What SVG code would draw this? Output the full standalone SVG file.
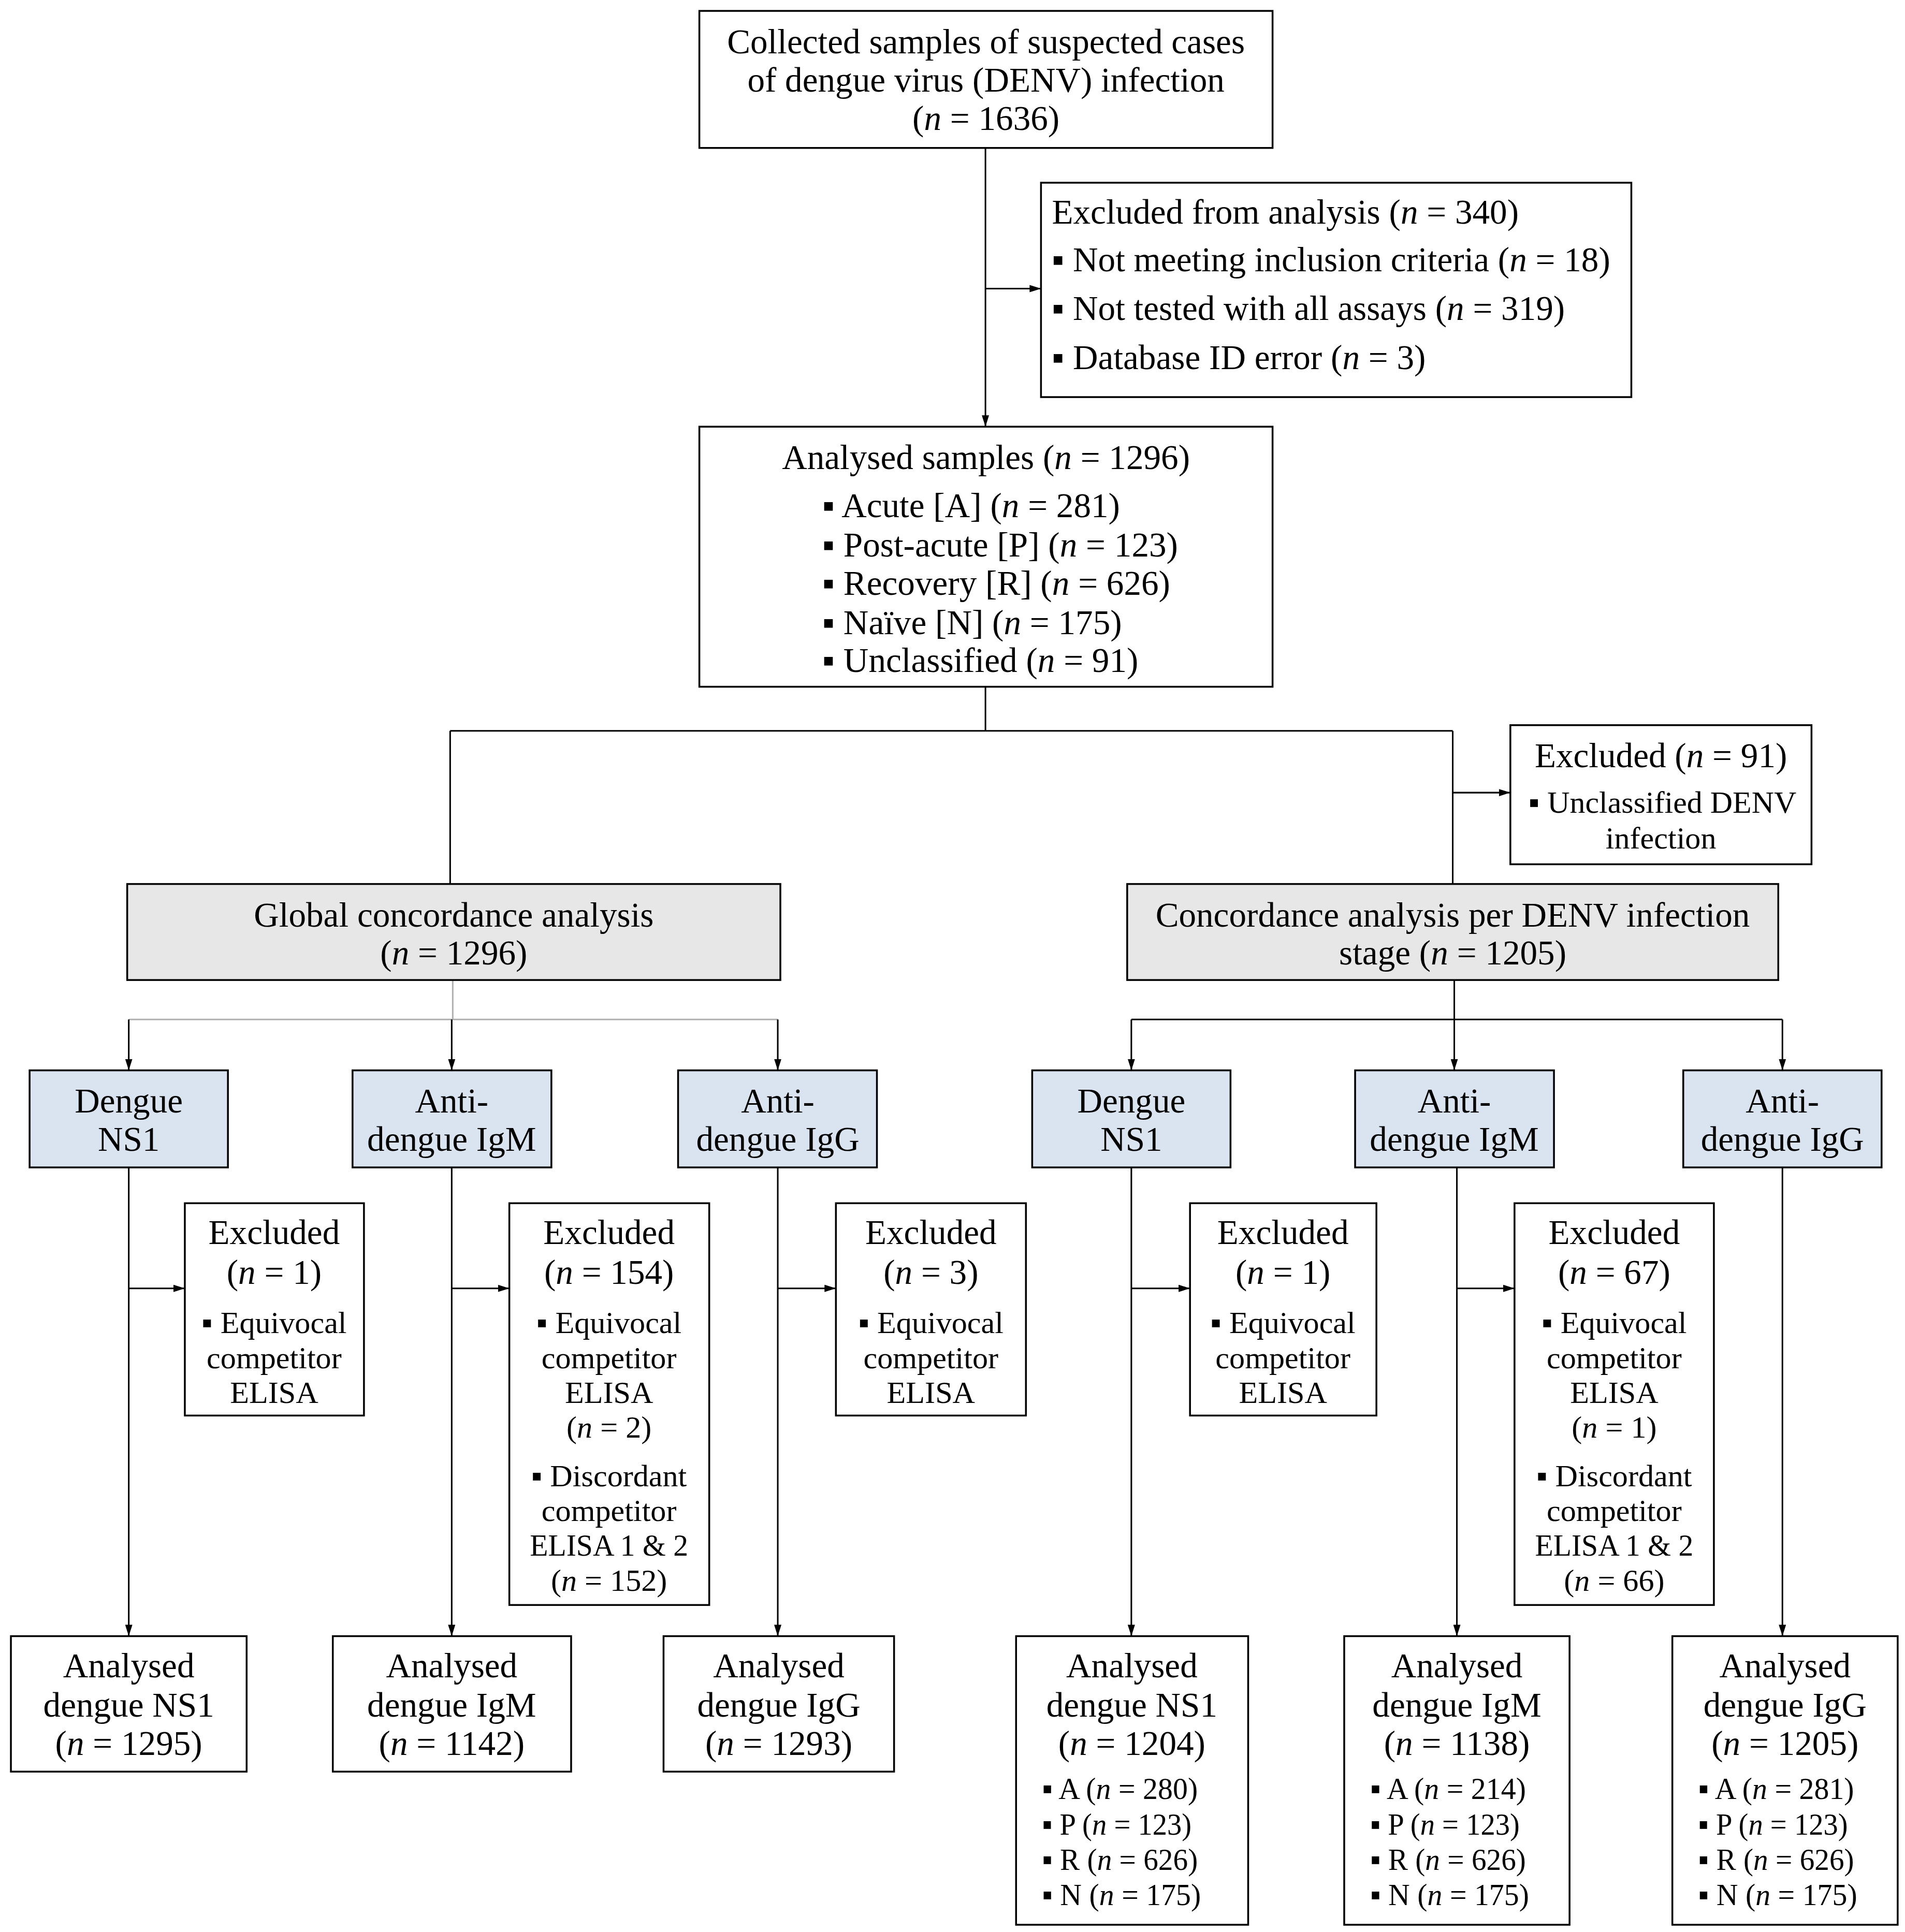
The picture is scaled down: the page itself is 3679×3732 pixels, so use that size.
<svg xmlns="http://www.w3.org/2000/svg" width="3679" height="3732" viewBox="0 0 3679 3732">
<defs>
<style>
.box{fill:#ffffff;stroke:#000000;stroke-width:3.5}
.grey{fill:#e7e7e7;stroke:#000000;stroke-width:3.5}
.blue{fill:#dae3f0;stroke:#000000;stroke-width:3.5}
text{font-family:"Liberation Serif","DejaVu Serif",serif;font-size:67px;fill:#000000}
text.s{font-size:60px}
.c{text-anchor:middle}
.i{font-style:italic}
.ln{fill:none;stroke:#000000;stroke-width:3}
.lg{fill:none;stroke:#b0b0b0;stroke-width:3}
.ar{fill:none;stroke:#000000;stroke-width:3;marker-end:url(#arrow)}
</style>
<marker id="arrow" markerUnits="userSpaceOnUse" markerWidth="22" markerHeight="14" viewBox="0 0 22 14" refX="22" refY="7" orient="auto">
<path d="M0,0 L22,7 L0,14 Z" fill="#000000"/>
</marker>
</defs>
<rect width="3679" height="3732" fill="#ffffff"/>
<g transform="scale(1.0027)">
<g id="connectors">
<path class="ar" d="M1898,285 V822"/>
<path class="ar" d="M1898,556 H2005"/>
<path class="ln" d="M1898,1323 V1408 M867,1408 H2798 M867,1408 V1703 M2798,1408 V1703"/>
<path class="ar" d="M2798,1527 H2909"/>
<path class="lg" d="M872,1888 V1964 M248,1964 H1498"/>
<path class="ar" d="M248,1964 V2062"/>
<path class="ar" d="M870,1964 V2062"/>
<path class="ar" d="M1498,1964 V2062"/>
<path class="ln" d="M2801,1888 V1964 M2179,1964 H3433"/>
<path class="ar" d="M2179,1964 V2062"/>
<path class="ar" d="M2801,1964 V2062"/>
<path class="ar" d="M3433,1964 V2062"/>
<path class="ar" d="M248,2249 V3152"/>
<path class="ar" d="M870,2249 V3152"/>
<path class="ar" d="M1498,2249 V3152"/>
<path class="ar" d="M2179,2249 V3152"/>
<path class="ar" d="M2806,2249 V3152"/>
<path class="ar" d="M3433,2249 V3152"/>
<path class="ar" d="M248,2482 H356"/>
<path class="ar" d="M870,2482 H981"/>
<path class="ar" d="M1498,2482 H1610"/>
<path class="ar" d="M2179,2482 H2292"/>
<path class="ar" d="M2806,2482 H2917"/>
</g>
<g id="collected">
<rect class="box" x="1347" y="21" width="1104" height="264"/>
<text class="c" x="1899" y="103">Collected samples of suspected cases</text>
<text class="c" x="1899" y="177">of dengue virus (DENV) infection</text>
<text class="c" x="1899" y="250">(<tspan class="i">n</tspan> = 1636)</text>
</g>
<g id="excluded-340">
<rect class="box" x="2005" y="352" width="1137" height="413"/>
<text x="2026" y="431">Excluded from analysis (<tspan class="i">n</tspan> = 340)</text>
<text x="2026" y="523">▪ Not meeting inclusion criteria (<tspan class="i">n</tspan> = 18)</text>
<text x="2026" y="616">▪ Not tested with all assays (<tspan class="i">n</tspan> = 319)</text>
<text x="2026" y="711">▪ Database ID error (<tspan class="i">n</tspan> = 3)</text>
</g>
<g id="analysed-samples">
<rect class="box" x="1347" y="822" width="1104" height="501"/>
<text class="c" x="1899" y="904">Analysed samples (<tspan class="i">n</tspan> = 1296)</text>
<text x="1584" y="996">▪ Acute [A] (<tspan class="i">n</tspan> = 281)</text>
<text x="1584" y="1072">▪ Post-acute [P] (<tspan class="i">n</tspan> = 123)</text>
<text x="1584" y="1146">▪ Recovery [R] (<tspan class="i">n</tspan> = 626)</text>
<text x="1584" y="1222">▪ Naïve [N] (<tspan class="i">n</tspan> = 175)</text>
<text x="1584" y="1295">▪ Unclassified (<tspan class="i">n</tspan> = 91)</text>
</g>
<g id="excluded-91">
<rect class="box" x="2909" y="1397" width="580" height="268"/>
<text class="c" x="3199" y="1478">Excluded (<tspan class="i">n</tspan> = 91)</text>
<text class="c s" x="3202" y="1566" textLength="516" lengthAdjust="spacingAndGlyphs">▪ Unclassified DENV</text>
<text class="c s" x="3199" y="1635">infection</text>
</g>
<g id="global">
<rect class="grey" x="245" y="1703" width="1258" height="185"/>
<text class="c" x="874" y="1785">Global concordance analysis</text>
<text class="c" x="874" y="1858">(<tspan class="i">n</tspan> = 1296)</text>
</g>
<g id="per-stage">
<rect class="grey" x="2171" y="1703" width="1254" height="185"/>
<text class="c" x="2798" y="1785">Concordance analysis per DENV infection</text>
<text class="c" x="2798" y="1858">stage (<tspan class="i">n</tspan> = 1205)</text>
</g>
<g id="g-ns1">
<rect class="blue" x="57" y="2062" width="382" height="187"/>
<text class="c" x="248" y="2143">Dengue</text>
<text class="c" x="248" y="2217">NS1</text>
</g>
<g id="g-igm">
<rect class="blue" x="679" y="2062" width="383" height="187"/>
<text class="c" x="870" y="2143">Anti-</text>
<text class="c" x="870" y="2217">dengue IgM</text>
</g>
<g id="g-igg">
<rect class="blue" x="1306" y="2062" width="383" height="187"/>
<text class="c" x="1498" y="2143">Anti-</text>
<text class="c" x="1498" y="2217">dengue IgG</text>
</g>
<g id="s-ns1">
<rect class="blue" x="1988" y="2062" width="382" height="187"/>
<text class="c" x="2179" y="2143">Dengue</text>
<text class="c" x="2179" y="2217">NS1</text>
</g>
<g id="s-igm">
<rect class="blue" x="2610" y="2062" width="383" height="187"/>
<text class="c" x="2801" y="2143">Anti-</text>
<text class="c" x="2801" y="2217">dengue IgM</text>
</g>
<g id="s-igg">
<rect class="blue" x="3242" y="2062" width="382" height="187"/>
<text class="c" x="3433" y="2143">Anti-</text>
<text class="c" x="3433" y="2217">dengue IgG</text>
</g>
<g id="g-ex-ns1">
<rect class="box" x="356" y="2318" width="345" height="409"/>
<text class="c" x="528" y="2397">Excluded</text>
<text class="c" x="528" y="2473">(<tspan class="i">n</tspan> = 1)</text>
<text class="c s" x="528" y="2568">▪ Equivocal</text>
<text class="c s" x="528" y="2636">competitor</text>
<text class="c s" x="528" y="2703">ELISA</text>
</g>
<g id="g-ex-igm">
<rect class="box" x="981" y="2318" width="385" height="774"/>
<text class="c" x="1173" y="2397">Excluded</text>
<text class="c" x="1173" y="2473">(<tspan class="i">n</tspan> = 154)</text>
<text class="c s" x="1173" y="2568">▪ Equivocal</text>
<text class="c s" x="1173" y="2636">competitor</text>
<text class="c s" x="1173" y="2703">ELISA</text>
<text class="c s" x="1173" y="2770">(<tspan class="i">n</tspan> = 2)</text>
<text class="c s" x="1173" y="2863">▪ Discordant</text>
<text class="c s" x="1173" y="2930">competitor</text>
<text class="c s" x="1173" y="2997" textLength="305" lengthAdjust="spacingAndGlyphs">ELISA 1 &amp; 2</text>
<text class="c s" x="1173" y="3065">(<tspan class="i">n</tspan> = 152)</text>
</g>
<g id="g-ex-igg">
<rect class="box" x="1610" y="2318" width="366" height="409"/>
<text class="c" x="1793" y="2397">Excluded</text>
<text class="c" x="1793" y="2473">(<tspan class="i">n</tspan> = 3)</text>
<text class="c s" x="1793" y="2568">▪ Equivocal</text>
<text class="c s" x="1793" y="2636">competitor</text>
<text class="c s" x="1793" y="2703">ELISA</text>
</g>
<g id="s-ex-ns1">
<rect class="box" x="2292" y="2318" width="359" height="409"/>
<text class="c" x="2471" y="2397">Excluded</text>
<text class="c" x="2471" y="2473">(<tspan class="i">n</tspan> = 1)</text>
<text class="c s" x="2471" y="2568">▪ Equivocal</text>
<text class="c s" x="2471" y="2636">competitor</text>
<text class="c s" x="2471" y="2703">ELISA</text>
</g>
<g id="s-ex-igm">
<rect class="box" x="2917" y="2318" width="384" height="774"/>
<text class="c" x="3109" y="2397">Excluded</text>
<text class="c" x="3109" y="2473">(<tspan class="i">n</tspan> = 67)</text>
<text class="c s" x="3109" y="2568">▪ Equivocal</text>
<text class="c s" x="3109" y="2636">competitor</text>
<text class="c s" x="3109" y="2703">ELISA</text>
<text class="c s" x="3109" y="2770">(<tspan class="i">n</tspan> = 1)</text>
<text class="c s" x="3109" y="2863">▪ Discordant</text>
<text class="c s" x="3109" y="2930">competitor</text>
<text class="c s" x="3109" y="2997" textLength="305" lengthAdjust="spacingAndGlyphs">ELISA 1 &amp; 2</text>
<text class="c s" x="3109" y="3065">(<tspan class="i">n</tspan> = 66)</text>
</g>
<g id="g-an-ns1">
<rect class="box" x="21" y="3152" width="454" height="261"/>
<text class="c" x="248" y="3231">Analysed</text>
<text class="c" x="248" y="3307">dengue NS1</text>
<text class="c" x="248" y="3381">(<tspan class="i">n</tspan> = 1295)</text>
</g>
<g id="g-an-igm">
<rect class="box" x="641" y="3152" width="459" height="261"/>
<text class="c" x="870" y="3231">Analysed</text>
<text class="c" x="870" y="3307">dengue IgM</text>
<text class="c" x="870" y="3381">(<tspan class="i">n</tspan> = 1142)</text>
</g>
<g id="g-an-igg">
<rect class="box" x="1278" y="3152" width="444" height="261"/>
<text class="c" x="1500" y="3231">Analysed</text>
<text class="c" x="1500" y="3307">dengue IgG</text>
<text class="c" x="1500" y="3381">(<tspan class="i">n</tspan> = 1293)</text>
</g>
<g id="s-an-ns1">
<rect class="box" x="1957" y="3152" width="447" height="556"/>
<text class="c" x="2180" y="3231">Analysed</text>
<text class="c" x="2180" y="3307">dengue NS1</text>
<text class="c" x="2180" y="3381">(<tspan class="i">n</tspan> = 1204)</text>
<text class="s" x="2007" y="3466" textLength="300" lengthAdjust="spacingAndGlyphs">▪ A (<tspan class="i">n</tspan> = 280)</text>
<text class="s" x="2007" y="3534" textLength="288" lengthAdjust="spacingAndGlyphs">▪ P (<tspan class="i">n</tspan> = 123)</text>
<text class="s" x="2007" y="3602" textLength="300" lengthAdjust="spacingAndGlyphs">▪ R (<tspan class="i">n</tspan> = 626)</text>
<text class="s" x="2007" y="3670" textLength="306" lengthAdjust="spacingAndGlyphs">▪ N (<tspan class="i">n</tspan> = 175)</text>
</g>
<g id="s-an-igm">
<rect class="box" x="2589" y="3152" width="434" height="556"/>
<text class="c" x="2806" y="3231">Analysed</text>
<text class="c" x="2806" y="3307">dengue IgM</text>
<text class="c" x="2806" y="3381">(<tspan class="i">n</tspan> = 1138)</text>
<text class="s" x="2639" y="3466" textLength="300" lengthAdjust="spacingAndGlyphs">▪ A (<tspan class="i">n</tspan> = 214)</text>
<text class="s" x="2639" y="3534" textLength="288" lengthAdjust="spacingAndGlyphs">▪ P (<tspan class="i">n</tspan> = 123)</text>
<text class="s" x="2639" y="3602" textLength="300" lengthAdjust="spacingAndGlyphs">▪ R (<tspan class="i">n</tspan> = 626)</text>
<text class="s" x="2639" y="3670" textLength="306" lengthAdjust="spacingAndGlyphs">▪ N (<tspan class="i">n</tspan> = 175)</text>
</g>
<g id="s-an-igg">
<rect class="box" x="3221" y="3152" width="434" height="556"/>
<text class="c" x="3438" y="3231">Analysed</text>
<text class="c" x="3438" y="3307">dengue IgG</text>
<text class="c" x="3438" y="3381">(<tspan class="i">n</tspan> = 1205)</text>
<text class="s" x="3271" y="3466" textLength="300" lengthAdjust="spacingAndGlyphs">▪ A (<tspan class="i">n</tspan> = 281)</text>
<text class="s" x="3271" y="3534" textLength="288" lengthAdjust="spacingAndGlyphs">▪ P (<tspan class="i">n</tspan> = 123)</text>
<text class="s" x="3271" y="3602" textLength="300" lengthAdjust="spacingAndGlyphs">▪ R (<tspan class="i">n</tspan> = 626)</text>
<text class="s" x="3271" y="3670" textLength="306" lengthAdjust="spacingAndGlyphs">▪ N (<tspan class="i">n</tspan> = 175)</text>
</g>
</g>
</svg>
